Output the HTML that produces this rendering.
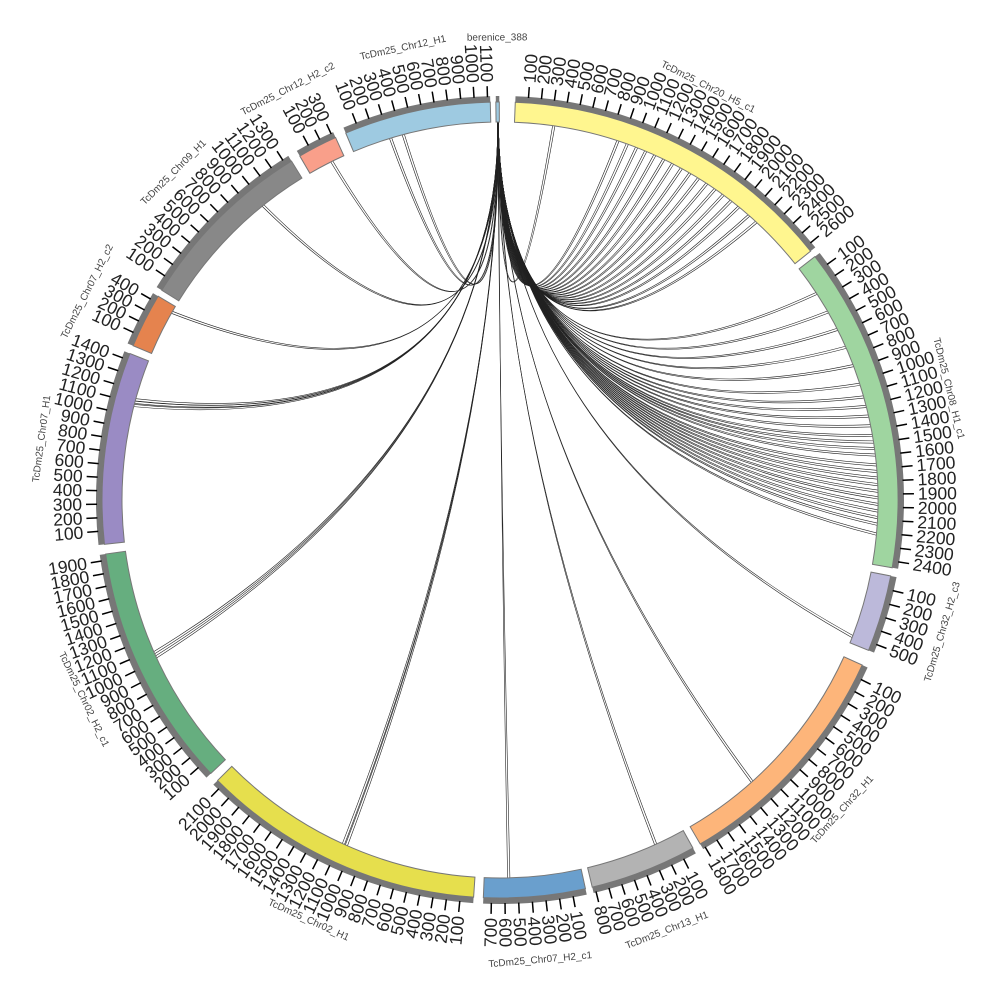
<!DOCTYPE html>
<html><head><meta charset="utf-8">
<style>html,body{margin:0;padding:0;background:#fff}svg{display:block}</style>
</head><body>
<svg id="s" width="1000" height="1000" xmlns="http://www.w3.org/2000/svg" font-family="Liberation Sans, DejaVu Sans, sans-serif"></svg>
<script>
var S=document.getElementById('s'),cx=500,cy=500,R1=378,R2=398;
var h='';
function pt(a,r){var t=a*Math.PI/180;return [cx+r*Math.sin(t),cy-r*Math.cos(t)];}
function arc(a0,a1,ri,ro,fill,stroke){
 var p1=pt(a0,ro),p2=pt(a1,ro),p3=pt(a1,ri),p4=pt(a0,ri),lg=(a1-a0)>180?1:0;
 return '<path d="M'+p1+' A'+ro+','+ro+' 0 '+lg+' 1 '+p2+' L'+p3+' A'+ri+','+ri+' 0 '+lg+' 0 '+p4+' Z" fill="'+fill+'" stroke="'+(stroke||'none')+'" stroke-width="1"/>';
}
var segs=[
 ['TcDm25_Chr20_H5_c1',2.2,51.3,2650,'#fff68f'],
 ['TcDm25_Chr08_H1_c1',52.3,99.8,2450,'#9fd5a0'],
 ['TcDm25_Chr32_H2_c3',101,112.2,560,'#bcb9da'],
 ['TcDm25_Chr32_H1',114.5,149.8,1820,'#fdb57a'],
 ['TcDm25_Chr13_H1',151,166.6,820,'#b3b3b3'],
 ['TcDm25_Chr07_H2_c1',167.6,182.4,760,'#6a9fcd'],
 ['TcDm25_Chr02_H1',183.8,225.2,2150,'#e6df4d'],
 ['TcDm25_Chr02_H2_c1',226.6,262.2,1950,'#66ae7f'],
 ['TcDm25_Chr07_H1',263.6,291.6,1450,'#9a8bc4'],
 ['TcDm25_Chr07_H2_c2',292.8,300.8,450,'#e5834e'],
 ['TcDm25_Chr09_H1',301.8,328.4,1350,'#888888'],
 ['TcDm25_Chr12_H2_c2',329.8,335.6,320,'#f99f8a'],
 ['TcDm25_Chr12_H1',337.2,358.6,1120,'#9ecae1'],
 ['berenice_388',359.4,359.9,388,'#9ecae1']
];
var src=359.65,targets=[8,18,19.5,21,22.5,24,25.5,27,28.5,30,31.5,33,34.5,36,37.5,39,41,42.5,
 56.7,60,63,66,69,72,74,75.5,77,78.5,80,81,82,83,84.5,85.5,86.5,87.5,88.5,89.5,90.5,91.5,92.5,93.5,95,
 111,138,155.5,178.5,203.8,204.3,245.3,246,284.3,284.8,285.2,299.6,321,333.4,343,345];
var lk='';
targets.forEach(function(t){
 [0,0.35].forEach(function(o){
  var p0=pt(src+o*0.3,R1),p1=pt(t+o,R1);
  var c=[cx,cy-60];
  lk+='<path d="M'+p0+' Q'+c+' '+p1+'" fill="none" stroke="#222" stroke-width="0.6"/>';
 });
});
h+=lk;
segs.forEach(function(s){
 var a0=s[1],a1=s[2],len=s[3];
 h+=arc(a0,a1,R2,R2+6,'#777');
 h+=arc(a0,a1,R1,R2,s[4],'#777');
 if(s[0]!=='berenice_388'){
  var upd=(a1-a0)/len;
  for(var v=100;v<len;v+=100){
   var a=a0+v*upd,p=pt(a,R2+5),q=pt(a,R2+16);
   h+='<line x1="'+p[0]+'" y1="'+p[1]+'" x2="'+q[0]+'" y2="'+q[1]+'" stroke="#000" stroke-width="1.5"/>';
   var l=pt(a,R2+20);
   if(a<180) h+='<text x="'+l[0]+'" y="'+l[1]+'" font-size="17.5" fill="#222" dominant-baseline="central" text-anchor="start" transform="rotate('+(a-90)+' '+l[0]+' '+l[1]+')">'+v+'</text>';
   else h+='<text x="'+l[0]+'" y="'+l[1]+'" font-size="17.5" fill="#222" dominant-baseline="central" text-anchor="end" transform="rotate('+(a+90)+' '+l[0]+' '+l[1]+')">'+v+'</text>';
  }
 }
 var m=(a0+a1)/2,r=462,p=pt(m,r),rot=(m>90&&m<270)?m-180:m;
 h+='<text x="'+p[0]+'" y="'+p[1]+'" font-size="10" fill="#444" text-anchor="middle" dominant-baseline="central" transform="rotate('+rot+' '+p[0]+' '+p[1]+')">'+s[0]+'</text>';
});
S.innerHTML=h;
</script>
</body></html>
